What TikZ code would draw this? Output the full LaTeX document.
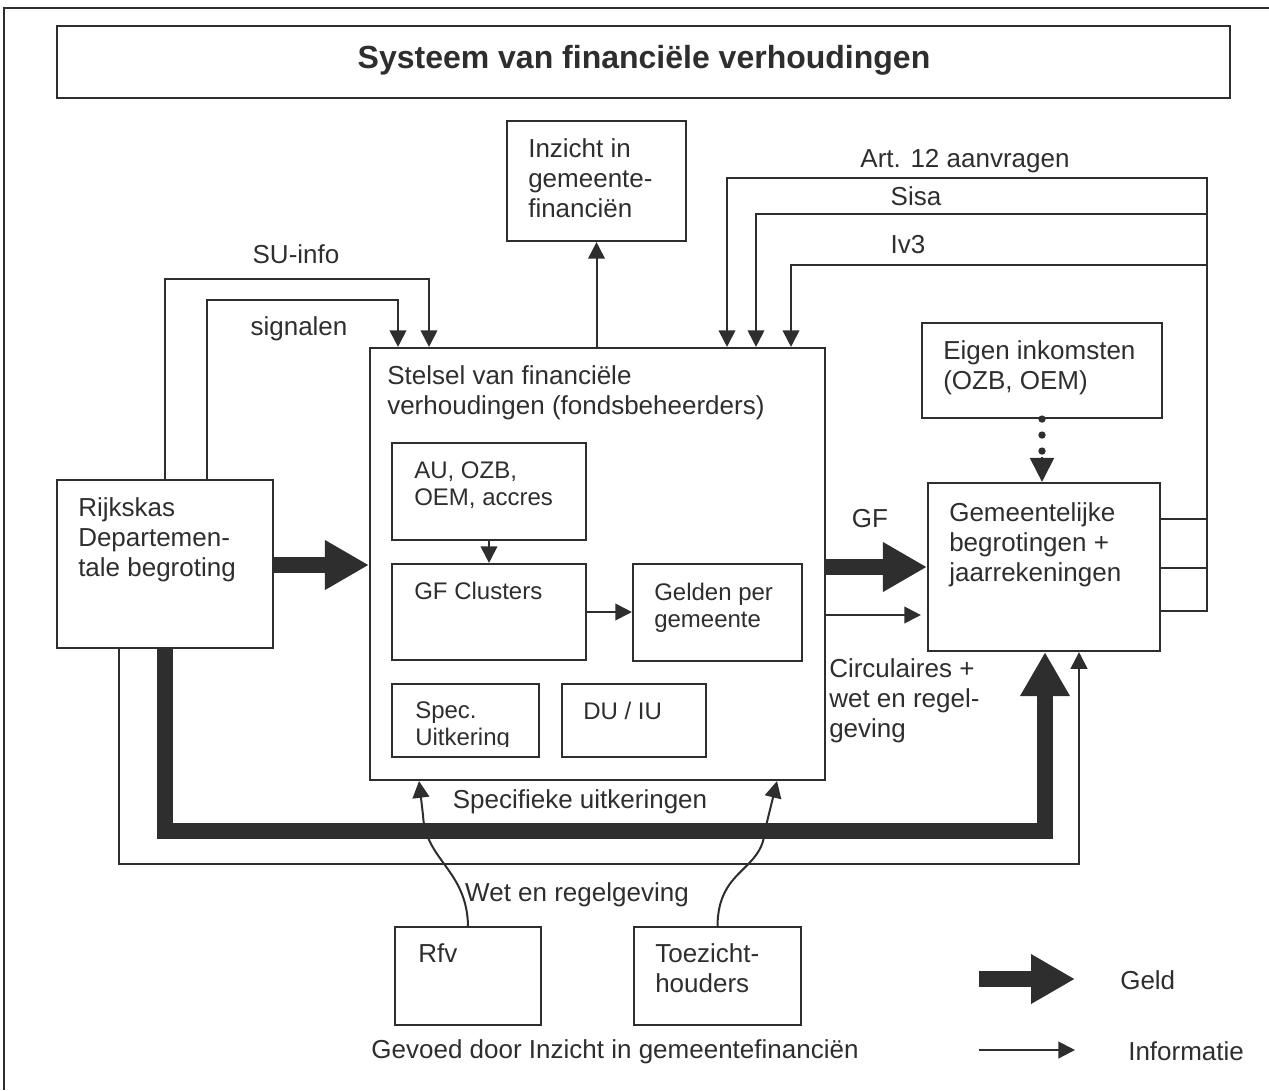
\documentclass[tikz,border=0pt]{standalone}
\usepackage{fontspec}
\setmainfont{Liberation Sans}
\usetikzlibrary{arrows.meta,fit,calc}
\definecolor{ink}{HTML}{2E2E2E}
\begin{document}
\begin{tikzpicture}[x=0.75pt,y=-0.75pt,line join=miter,
  box/.style={draw=ink,line width=1.6pt,inner sep=0pt},
  txt/.style={text=ink,font=\fontsize{19.5}{22.5}\selectfont,inner sep=0pt,align=left,anchor=north west},
  stxt/.style={text=ink,font=\fontsize{18}{20.25}\selectfont,inner sep=0pt,align=left,anchor=north west},
  lbl/.style={text=ink,font=\fontsize{19.5}{22.5}\selectfont,inner sep=0pt,anchor=base},
  info/.style={draw=ink,line width=1.5pt,-{Triangle[width=12.5pt,length=12.5pt]}},
  wire/.style={draw=ink,line width=1.5pt},
  geld/.style={draw=ink,line width=11.5pt,-{Triangle[width=35pt,length=33pt]}},
]
\useasboundingbox (0,0) rectangle (1269,1090);
% outer frame
\draw[ink,line width=2pt] (4,1090) -- (4,8) -- (1269,8);

% title
\node[box,fit={(57,26) (1230,98)}] (title) {};
\node[text=ink,font=\bfseries\fontsize{24}{28}\selectfont,inner sep=0pt] (titleT) at (644,60) {Systeem van financi\"ele verhoudingen};

% boxes
\node[box,fit={(507,121) (686,241)}] (inz) {};
\node[txt] (inzT) at (528,138.6) {Inzicht in\\gemeente-\\financi\"en};

\node[box,fit={(370,348) (825,780)}] (stel) {};
\node[txt] (stelT) at (387,365.6) {Stelsel van financi\"ele\\verhoudingen (fondsbeheerders)};

\node[box,fit={(392,443) (586,540)}] (au) {};
\node[stxt] (auT) at (414,461.4) {AU, OZB,\\OEM, accres};

\node[box,fit={(392,564) (586,660)}] (gfc) {};
\node[stxt] (gfcT) at (414,581.4) {GF Clusters};

\node[box,fit={(633,564) (802,661)}] (gpg) {};
\node[stxt] (gpgT) at (654,582.4) {Gelden per\\gemeente};

\node[box,fit={(392,684) (539,757)}] (spec) {};
\begin{scope}
  \clip (392,684) rectangle (539,746);
  \node[stxt] (specT) at (415,701.4) {Spec.\\Uitkering};
\end{scope}

\node[box,fit={(562,684) (706,757)}] (duiu) {};
\node[stxt] (duiuT) at (583,701.4) {DU / IU};

\node[box,fit={(57,480) (273,648)}] (rijk) {};
\node[txt] (rijkT) at (78,497.6) {Rijkskas\\Departemen-\\tale begroting};

\node[box,fit={(928,483) (1160,651)}] (gem) {};
\node[txt] (gemT) at (949,502.6) {Gemeentelijke\\begrotingen +\\jaarrekeningen};

\node[box,fit={(922,323) (1162,418)}] (eig) {};
\node[txt] (eigT) at (943,340.6) {Eigen inkomsten\\(OZB, OEM)};

\node[box,fit={(395,927) (541,1025)}] (rfv) {};
\node[txt] (rfvT) at (418,943.6) {Rfv};

\node[box,fit={(634,927) (801,1025)}] (toe) {};
\node[txt] (toeT) at (655,943.6) {Toezicht-\\houders};

% labels
\node[lbl] (suL) at (296,263) {SU-info};
\node[lbl] (sigL) at (299,335) {signalen};
\node[lbl] (artL) at (965,167) {Art. 12 aanvragen};
\node[lbl] (sisaL) at (916,205) {Sisa};
\node[lbl] (ivL) at (908,253) {Iv3};
\node[lbl] (gfL) at (870,527) {GF};
\node[txt] (circT) at (829,658.6) {Circulaires +\\wet en regel-\\geving};
\node[lbl] (specL) at (580,808) {Specifieke uitkeringen};
\node[lbl] (wetL) at (577,901) {Wet en regelgeving};
\node[lbl] (gevL) at (615,1058) {Gevoed door Inzicht in gemeentefinanci\"en};

% information connectors
\draw[info] (inz.south |- stel.north) -- (inz.south);
\draw[info] (165,0 |- rijk.north) |- (429,279) -- (429,0 |- stel.north);
\draw[info] (207,0 |- rijk.north) |- (398,300) -- (398,0 |- stel.north);
\draw[info] (gem.east |- 0,519) -| (1207,178) -| (727,0 |- stel.north);
\draw[info] (gem.east |- 0,568) -| (1207,214) -| (756,0 |- stel.north);
\draw[info] (gem.east |- 0,611) -| (1207,265) -| (791,0 |- stel.north);
\draw[info] (au.south) -- (gfc.north);
\draw[info] (gfc.east) -- (gpg.west |- gfc.east);
\draw[info,shorten >=4.5pt] (stel.east |- 0,615) -- (gem.west |- 0,615);
\draw[info] (119,0 |- rijk.south) |- (1079,864) -- (1079,0 |- gem.south);

% curves
\draw[info] (rfv.north) .. controls (467,870) and (425,860) .. (423,815) -- (419,0 |- stel.south);
\draw[info] (toe.north) .. controls (718,868) and (762,872) .. (765,830) -- (777,0 |- stel.south);

% money connectors
\draw[geld] (rijk.east |- 0,565) -- (stel.west |- 0,565);
\draw[geld] (stel.east |- 0,567) -- (gem.west |- 0,567);
\draw[geld] (165,0 |- rijk.south) |- (1045,831) -- (1045,0 |- gem.south);

% dotted arrow
\draw[ink,line width=5.5pt,line cap=round,dash pattern=on 0pt off 12pt] (eig.south) -- ++(0,34);
\draw[ink,line width=1.5pt,-{Triangle[width=18pt,length=18pt]}] (eig.south |- 0,457) -- (eig.south |- gem.north);

% legend
\coordinate (lgA) at (979,979);
\coordinate (lgB) at (1075,979);
\coordinate (lgC) at (979,1050);
\coordinate (lgD) at (1075,1050);
\draw[geld] (lgA) -- (lgB);
\draw[info] (lgC) -- (lgD);
\node[lbl,anchor=base west] (geldL) at (1120,989) {Geld};
\node[lbl,anchor=base west] (infoL) at (1128,1060) {Informatie};
\end{tikzpicture}
\end{document}
